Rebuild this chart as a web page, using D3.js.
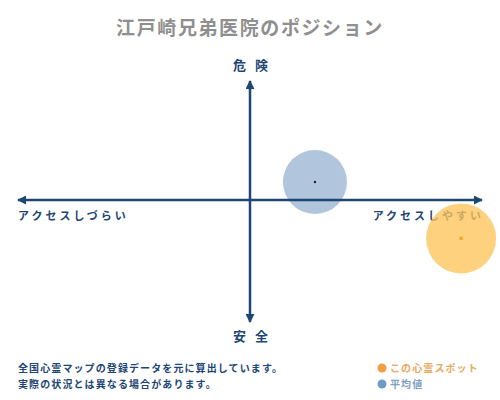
<!DOCTYPE html>
<html>
<head>
<meta charset="utf-8">
<script src="https://cdn.jsdelivr.net/npm/d3@7"></script>
<style>
  body { margin: 0; background: #fff; }
  svg text { font-family: "Noto Sans CJK JP", "Noto Sans", sans-serif; }
</style>
</head>
<body>
<div id="chart"></div>
<script>
// position data: x = access (-1 hard .. 1 easy), y = danger (-1 safe .. 1 dangerous)
var seriesNames = ["この心霊スポット", "平均値"];
var accessValues = [0.91, 0.28];
var dangerValues = [-0.32, 0.15];
var axisLabels = ["アクセスしづらい", "アクセスしやすい", "危険", "安全"];
var footNotes = ["全国心霊マップの登録データを元に算出しています。", "実際の状況とは異なる場合があります。"];

var width = 500,
  height = 400;

var fills = ["#fdc45a", "#a3bbd6"];
var dotColors = ["#f0a040", "#6f9cc4"];
var textColors = ["#e8a860", "#7fa0c0"];
var radii = [35, 32];
var navy = "#1d4673";

var x = d3.scaleLinear().domain([-1, 1]).range([18, 482]);
var y = d3.scaleLinear().domain([-1, 1]).range([320, 80]);

var svg = d3.select("#chart").append("svg")
  .attr("width", width)
  .attr("height", height);

var defs = svg.append("defs");
defs.append("marker")
  .attr("id", "arrow")
  .attr("viewBox", "0 0 10 10")
  .attr("refX", 9)
  .attr("refY", 5)
  .attr("markerWidth", 3.6)
  .attr("markerHeight", 3.6)
  .attr("orient", "auto-start-reverse")
  .append("path")
  .attr("d", "M0,0 L10,5 L0,10 z")
  .attr("fill", navy);

// title
svg.append("text")
  .attr("x", 250)
  .attr("y", 35)
  .attr("text-anchor", "middle")
  .style("font-size", "19px")
  .style("font-weight", "bold")
  .style("letter-spacing", "1.6px")
  .style("fill", "#8f8f8f")
  .text("江戸崎兄弟医院のポジション");

// axis labels
svg.append("text")
  .attr("x", 18).attr("y", 220)
  .style("font-size", "11px").style("font-weight", "bold")
  .style("letter-spacing", "3px")
  .style("fill", navy)
  .text(axisLabels[0]);

svg.append("text")
  .attr("x", 484).attr("y", 220)
  .attr("text-anchor", "end")
  .style("font-size", "11px").style("font-weight", "bold")
  .style("letter-spacing", "3px")
  .style("fill", navy)
  .text(axisLabels[1]);

svg.append("text")
  .attr("x", 255).attr("y", 70)
  .attr("text-anchor", "middle")
  .style("font-size", "13px").style("font-weight", "bold")
  .style("letter-spacing", "9px")
  .style("fill", navy)
  .text(axisLabels[2]);

svg.append("text")
  .attr("x", 255).attr("y", 341)
  .attr("text-anchor", "middle")
  .style("font-size", "13px").style("font-weight", "bold")
  .style("letter-spacing", "9px")
  .style("fill", navy)
  .text(axisLabels[3]);

// bubbles (average first, then this spot on top)
var order = [1, 0];
var bubbles = svg.selectAll("g.bubble")
  .data(order)
  .enter().append("g")
  .attr("class", "bubble");

bubbles.append("circle")
  .attr("cx", function (i) { return x(accessValues[i]); })
  .attr("cy", function (i) { return y(dangerValues[i]); })
  .attr("r", function (i) { return radii[i]; })
  .attr("fill", function (i) { return fills[i]; })
  .attr("fill-opacity", function (i) { return i == 0 ? 0.78 : 0.85; });

// axes
svg.append("line")
  .attr("x1", x(-1)).attr("y1", y(0))
  .attr("x2", x(1)).attr("y2", y(0))
  .attr("stroke", navy).attr("stroke-width", 2.5)
  .attr("marker-start", "url(#arrow)")
  .attr("marker-end", "url(#arrow)");

svg.append("line")
  .attr("x1", x(0)).attr("y1", 322)
  .attr("x2", x(0)).attr("y2", 81)
  .attr("stroke", navy).attr("stroke-width", 2.5)
  .attr("marker-start", "url(#arrow)")
  .attr("marker-end", "url(#arrow)");

// center markers
bubbles.append("circle")
  .attr("cx", function (i) { return x(accessValues[i]); })
  .attr("cy", function (i) { return y(dangerValues[i]); })
  .attr("r", function (i) { return i == 0 ? 1.8 : 1.2; })
  .attr("fill", function (i) { return i == 0 ? "#f5a623" : "#222"; });

// foot notes
svg.selectAll("text.note")
  .data(footNotes)
  .enter().append("text")
  .attr("class", "note")
  .attr("x", 18)
  .attr("y", function (d, i) { return 372 + i * 16; })
  .style("font-size", "10px").style("font-weight", "bold")
  .style("letter-spacing", "1.1px")
  .style("fill", navy)
  .text(function (d) { return d; });

// legend
var legend = svg.selectAll("g.legend")
  .data(seriesNames)
  .enter().append("g")
  .attr("class", "legend")
  .attr("transform", function (d, i) { return "translate(382," + (368 + i * 16) + ")"; });

legend.append("circle")
  .attr("r", 4.5)
  .attr("fill", function (d, i) { return dotColors[i]; });

legend.append("text")
  .attr("x", 8)
  .attr("y", 4)
  .style("font-size", "10px").style("font-weight", "bold")
  .style("letter-spacing", "1.1px")
  .style("fill", function (d, i) { return textColors[i]; })
  .text(function (d) { return d; });
</script>
</body>
</html>
